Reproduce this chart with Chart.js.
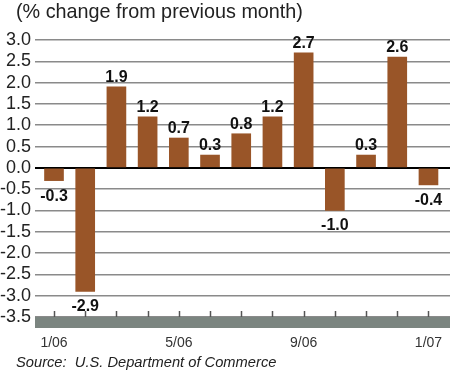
<!DOCTYPE html>
<html lang="en">
<head>
  <meta charset="UTF-8">
  <title>% change from previous month</title>
  <script src="https://cdn.jsdelivr.net/npm/chart.js"></script>
  <style>
    body {
      margin: 0;
      background: #fff;
    }
    #wrap {
      position: relative;
      width: 450px;
      height: 377px;
    }
    .title {
      position: absolute;
      left: 16px;
      top: 2px;
      font: 19.8px/1 "Liberation Sans", Arial, sans-serif;
      color: #222;
      white-space: pre;
    }
    .source {
      position: absolute;
      left: 16px;
      top: 355px;
      font: italic 14.7px/1 "Liberation Sans", Arial, sans-serif;
      color: #222;
      white-space: pre;
    }
  </style>
</head>
<body>
  <div id="wrap">
    <canvas id="chart" width="450" height="377"></canvas>
    <div class="title">(% change from previous month)</div>
    <div class="source">Source:  U.S. Department of Commerce</div>
  </div>

  <script>
    const months = ['1/06', '2/06', '3/06', '4/06', '5/06', '6/06', '7/06',
                    '8/06', '9/06', '10/06', '11/06', '12/06', '1/07'];
    const changes = [-0.3, -2.9, 1.9, 1.2, 0.7, 0.3, 0.8, 1.2, 2.7, -1.0, 0.3, 2.6, -0.4];
    const labelledMonths = ['1/06', '5/06', '9/06', '1/07'];

    const sans = '"Liberation Sans", Arial, sans-serif';

    // grey band along the bottom with small tick marks for each month
    const bottomBand = {
      id: 'bottomBand',
      afterDraw(chart) {
        const { ctx, chartArea } = chart;
        const x = chart.scales.x;
        ctx.save();
        ctx.fillStyle = '#7b8580';
        ctx.fillRect(chartArea.left, chartArea.bottom, chartArea.right - chartArea.left, 11);
        ctx.strokeStyle = '#555';
        ctx.lineWidth = 1.5;
        months.forEach((m, i) => {
          const px = Math.round(x.getPixelForValue(i)) + 0.5;
          ctx.beginPath();
          ctx.moveTo(px, chartArea.bottom - 6);
          ctx.lineTo(px, chartArea.bottom);
          ctx.stroke();
        });
        ctx.restore();
      }
    };

    // value labels above / below each bar
    const valueLabels = {
      id: 'valueLabels',
      afterDatasetsDraw(chart) {
        const ctx = chart.ctx;
        const bars = chart.getDatasetMeta(0).data;
        ctx.save();
        ctx.font = 'bold 16px ' + sans;
        ctx.fillStyle = '#111';
        ctx.textAlign = 'center';
        ctx.textBaseline = 'alphabetic';
        bars.forEach((bar, i) => {
          const v = changes[i];
          const y = v >= 0 ? bar.y - 5 : bar.y + 20;
          ctx.fillText(v.toFixed(1), bar.x, y);
        });
        ctx.restore();
      }
    };

    new Chart(document.getElementById('chart'), {
      type: 'bar',
      data: {
        datasets: [{
          data: changes.map((v, i) => ({ x: i, y: v })),
          backgroundColor: '#995528',
          barThickness: 19
        }]
      },
      options: {
        responsive: false,
        animation: false,
        layout: { padding: { top: 40, right: 0, left: 0, bottom: 0 } },
        plugins: {
          legend: { display: false },
          tooltip: { enabled: false }
        },
        scales: {
          x: {
            type: 'linear',
            offset: false,
            min: -0.609,
            max: 12.69,
            grid: { display: false, drawTicks: false, offset: false },
            border: { display: false },
            afterBuildTicks: s => {
              s.ticks = labelledMonths.map(m => ({ value: months.indexOf(m) }));
            },
            afterFit: s => {
              s.height = 60;
              s.paddingLeft = 0;
              s.paddingRight = 0;
            },
            ticks: {
              autoSkip: false,
              maxRotation: 0,
              padding: 18,
              color: '#333',
              font: { family: sans, size: 14 },
              callback: v => months[v]
            }
          },
          y: {
            min: -3.5,
            max: 3.0,
            afterFit: s => { s.width = 35; },
            border: { display: false },
            grid: {
              drawTicks: false,
              color: c => c.tick.value === 0 ? '#000' : '#8a8a8a',
              lineWidth: c => c.tick.value === 0 ? 2 : 1.5
            },
            ticks: {
              stepSize: 0.5,
              autoSkip: false,
              padding: 4,
              color: '#222',
              font: { family: sans, size: 18 },
              callback: v => v.toFixed(1)
            }
          }
        }
      },
      plugins: [bottomBand, valueLabels]
    });
  </script>
</body>
</html>
